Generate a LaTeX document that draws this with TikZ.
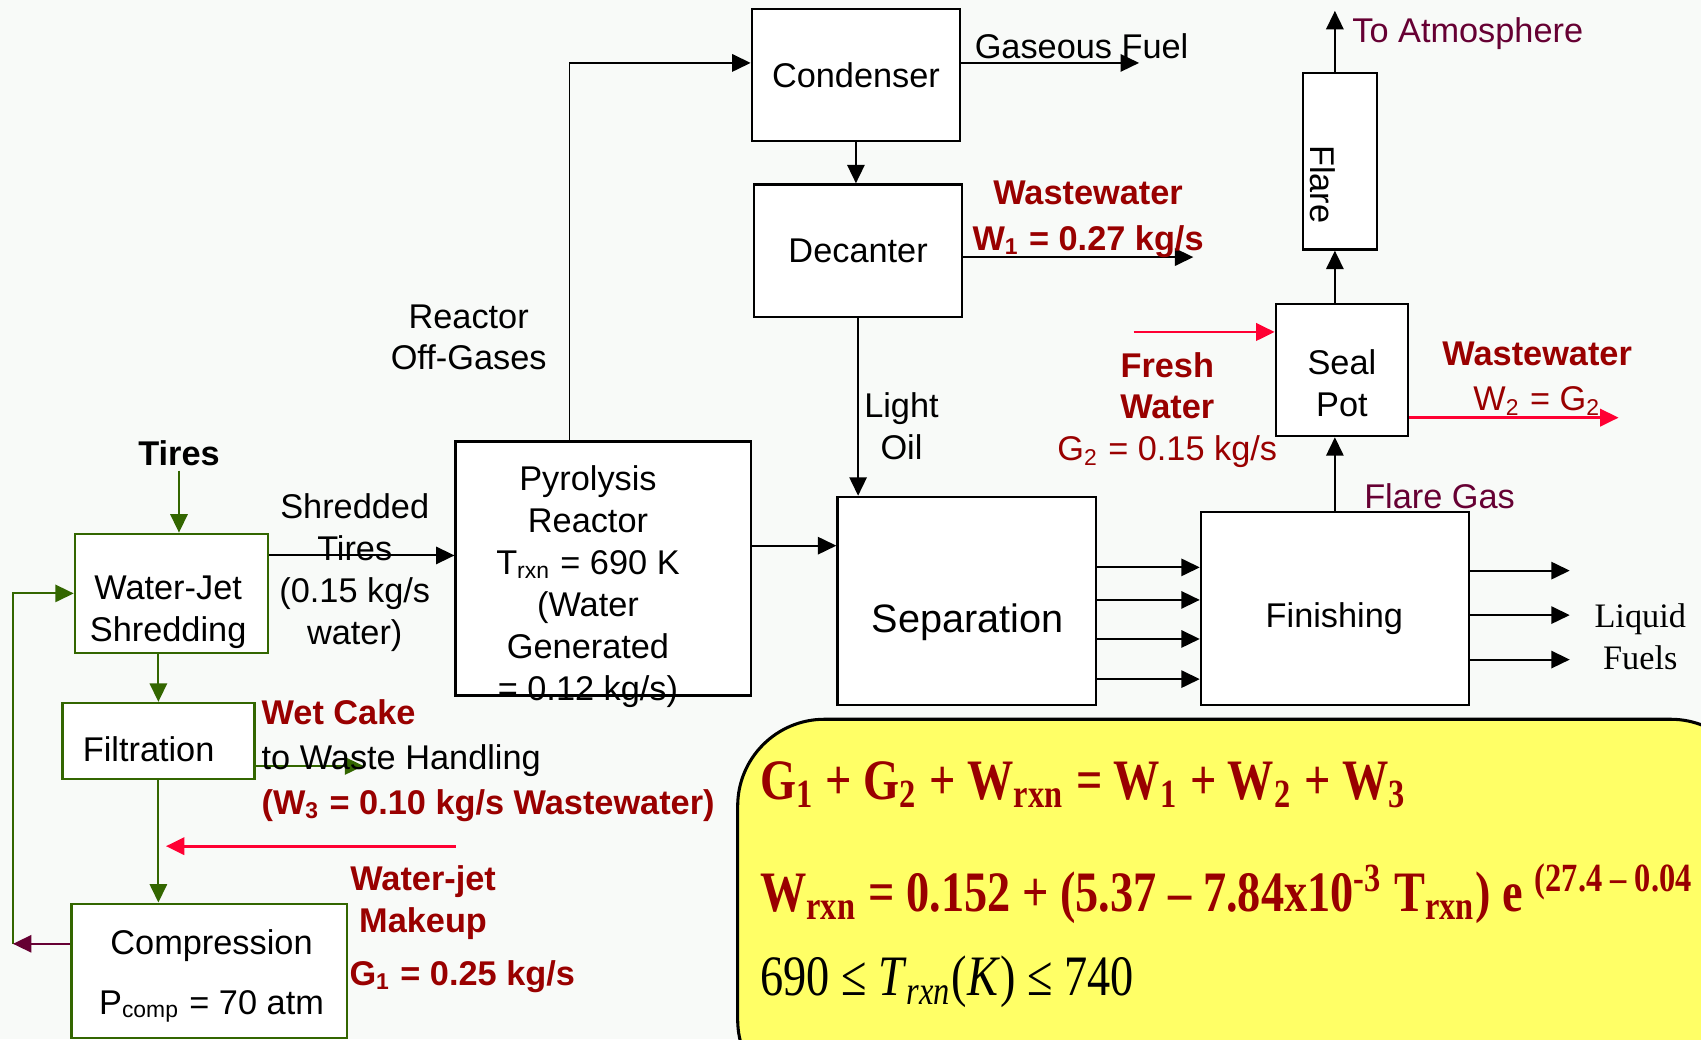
\documentclass[tikz,border=0pt]{standalone}
\usepackage{fontspec}
\setmainfont{Liberation Sans}
\newfontfamily\eqfont[FakeStretch=0.81]{Liberation Serif}
\newfontfamily\fuelfont{Liberation Serif}
\usetikzlibrary{arrows.meta,calc}
\definecolor{pfdred}{HTML}{990000}
\definecolor{pfdpink}{HTML}{FF0033}
\definecolor{pfdgreen}{HTML}{336600}
\definecolor{pfdpurple}{HTML}{660033}
\definecolor{pfdyellow}{HTML}{FFFF66}
\definecolor{pfdbg}{HTML}{F8FAF8}

\begin{document}
\begin{tikzpicture}[
  font=\fontsize{9}{11}\selectfont,
  unit/.style={draw, fill=white, line width=0.6pt, inner sep=0pt, align=center},
  gunit/.style={unit, draw=pfdgreen},
  fl/.style={-{Triangle[length=1.7mm,width=1.6mm]}, line width=0.5pt},
  gfl/.style={fl, pfdgreen},
  rfl/.style={fl, pfdpink, line width=0.7pt},
  pfl/.style={fl, pfdpurple},
  lab/.style={inner sep=1pt, align=center},
  wlab/.style={lab, text=pfdred, font=\fontsize{9}{11}\selectfont\bfseries},
  eq/.style={anchor=base west, inner sep=0pt, text=pfdred,
             font=\eqfont\bfseries\fontsize{15}{18}\selectfont}
]
\useasboundingbox (0,0) rectangle (15.68,-9.58);
\fill[pfdbg] (0,0) rectangle (15.68,-9.58);
\clip (0,0) rectangle (15.68,-9.58);
% ----- process units -----
\node[unit, minimum width=1.92cm, minimum height=1.22cm] (cond) at (7.89,-0.69) {Condenser};
\node[unit, minimum width=1.92cm, minimum height=1.22cm] (dec) at (7.91,-2.31) {Decanter};
\node[unit, minimum width=2.72cm, minimum height=2.34cm] (pyro) at (5.56,-5.24) {};
\node[unit, minimum width=2.38cm, minimum height=1.92cm] (sep) at (8.91,-5.54) {};
\node[unit, minimum width=2.47cm, minimum height=1.78cm] (fin) at (12.305,-5.61) {};
\node[unit, minimum width=1.22cm, minimum height=1.22cm] (seal) at (12.37,-3.41) {};
\node[unit, minimum width=0.68cm, minimum height=1.63cm] (flare) at (12.35,-1.485) {};
\node[gunit, minimum width=1.78cm, minimum height=1.10cm] (wjs) at (1.58,-5.47) {};
\node[gunit, minimum width=1.77cm, minimum height=0.70cm] (filt) at (1.46,-6.83) {};
\node[gunit, minimum width=2.54cm, minimum height=1.24cm] (comp) at (1.93,-8.95) {};
\node[lab] (pyrotxt) at (5.42,-5.41)
  {Pyrolysis\\Reactor\\T\textsubscript{rxn} = 690 K\\(Water\\Generated\\= 0.12 kg/s)};
\node[lab, font=\fontsize{10.4}{12}\selectfont] (septxt) at (8.92,-5.74) {Separation};
\node[lab] (fintxt) at (12.30,-5.70) {Finishing};
\node[lab] (sealtxt) at (12.37,-3.53) {Seal\\Pot};
\node[lab, rotate=-90] (flaretxt) at (12.19,-1.70) {Flare};
\node[lab] (wjstxt) at (1.55,-5.64) {Water-Jet\\Shredding};
\node[lab] (filttxt) at (1.37,-6.91) {Filtration};
\node[lab] (comptxt) at (1.95,-9.00) {Compression\\[1.6mm] P\textsubscript{comp} = 70 atm};
% ----- gas side: condenser, decanter, flare -----
\coordinate (og) at ([xshift=-3.1mm]pyro.north);
\draw[fl] (og) |- ([yshift=1.1mm]cond.west);
\draw[fl] (cond.south) -- (cond.south |- dec.north);
\coordinate (gf) at (10.50,-0.58);
\draw[fl] (gf -| cond.east) -- (gf);
\coordinate (ww1) at (11.00,-2.37);
\draw[fl] (ww1 -| dec.east) -- (ww1);
\draw[fl] (dec.south) -- (dec.south |- sep.north);
\coordinate (rx) at (7.72,-5.03);
\draw[fl] (rx -| pyro.east) -- (rx -| sep.west);
\foreach \y in {-5.23,-5.53,-5.89,-6.26}{\draw[fl] (sep.east |- 0,\y) -- (fin.west |- 0,\y);}
\coordinate (lf) at (14.47,-5.67);
\foreach \y in {-5.26,-5.67,-6.08}{\draw[fl] (fin.east |- 0,\y) -- (lf |- 0,\y);}
\draw[fl] (fin.north) -- (fin.north |- seal.south);
\draw[fl] (fin.north |- seal.north) -- (fin.north |- flare.south);
\coordinate (atm) at (fin.north |- 0,-0.10);
\draw[fl] (fin.north |- flare.north) -- (atm);
\coordinate (fw) at (10.45,-3.06);
\draw[rfl] (fw) -- (fw -| seal.west);
\coordinate (ww2) at (14.92,-3.85);
\draw[rfl] (ww2 -| seal.east) -- (ww2);
% ----- feed side: shredding, filtration, compression -----
\node[lab, font=\fontsize{9}{11}\selectfont\bfseries] (tires) at (1.65,-4.18) {Tires};
\draw[gfl] (tires.south) -- (tires.south |- wjs.north);
\coordinate (st) at (2.52,-5.12);
\draw[fl] (st -| wjs.east) -- (st -| pyro.west);
\draw[gfl] (filt.north |- wjs.south) -- (filt.north);
\coordinate (wc) at (3.35,-7.06);
\draw[gfl] (wc -| filt.east) -- (wc);
\draw[gfl] (filt.south) -- (filt.south |- comp.north);
\coordinate (mk) at (4.20,-7.80);
\draw[rfl] (mk) -- ++(-2.67,0);
\coordinate (rt) at (0.12,-8.70);
\draw[gfl] (rt) |- (wjs.west);
\draw[pfl] (rt -| comp.west) -- (rt);
% ----- stream labels -----
\node[lab] (gflab) at (9.97,-0.43) {Gaseous Fuel};
\node[lab] (oglab) at (4.32,-3.11) {Reactor\\Off-Gases};
\node[lab] (lolab) at (8.31,-3.93) {Light\\Oil};
\node[wlab] (w1lab) at (10.03,-2.02) {Wastewater\\[0.4mm] W\textsubscript{1} = 0.27 kg/s};
\node[lab, text=pfdred] (fwlab) at (10.76,-3.78)
  {\textbf{Fresh}\\\textbf{Water}\\G\textsubscript{2} = 0.15 kg/s};
\node[lab, text=pfdred] (w2lab) at (14.17,-3.49)
  {\textbf{Wastewater}\\[0.3mm] W\textsubscript{2} = G\textsubscript{2}};
\node[lab, text=pfdpurple] (fglab) at (13.27,-4.57) {Flare Gas};
\node[lab, text=pfdpurple] (atmlab) at (13.53,-0.31) {To Atmosphere};
\node[lab] (shlab) at (3.27,-5.28) {Shredded\\Tires\\(0.15 kg/s\\water)};
\node[lab, anchor=west, align=left] (wclab) at (2.37,-7.01)
  {\textcolor{pfdred}{\textbf{Wet Cake}}\\[0.3mm] to Waste Handling\\[0.3mm]
   \textcolor{pfdred}{\textbf{(W\textsubscript{3} = 0.10 kg/s Wastewater)}}};
\node[wlab] (mklab) at (3.90,-8.32) {Water-jet\\Makeup};
\node[wlab, anchor=west] (g1lab) at (3.18,-9.00) {G\textsubscript{1} = 0.25 kg/s};
\node[lab, font=\fuelfont\fontsize{9}{11}\selectfont] (lqlab) at (15.12,-5.87) {Liquid\\Fuels};
% ----- water balance box -----
\draw[fill=pfdyellow, line width=0.8pt, rounded corners=8mm]
  (16.2,-6.63) -- (6.80,-6.63) -- (6.80,-10.2) -- (16.2,-10.2) -- cycle;
\node[eq] (eqbal) at (7.00,-7.37)
  {G\textsubscript{1} + G\textsubscript{2} + W\textsubscript{rxn} = W\textsubscript{1} + W\textsubscript{2} + W\textsubscript{3}};
\node[eq] (eqrate) at (7.00,-8.40)
  {W\textsubscript{rxn} = 0.152 + (5.37 – 7.84x10\textsuperscript{-3} T\textsubscript{rxn}) e \textsuperscript{(27.4 – 0.04}};
\node[anchor=base west, inner sep=0pt, font=\eqfont\fontsize{15}{18}\selectfont] (eqrange) at (7.00,-9.18)
  {690 ≤ \textit{T}\textsubscript{\textit{rxn}}(\textit{K}) ≤ 740};
\end{tikzpicture}
\end{document}
